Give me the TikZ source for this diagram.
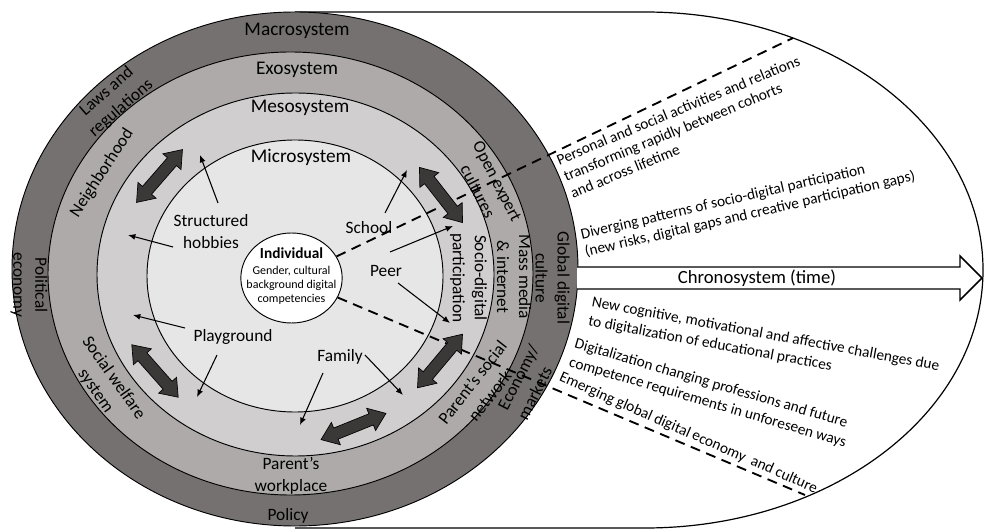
\documentclass[tikz,border=0pt]{standalone}
\usepackage{fontspec}
\setmainfont{Carlito}
\usetikzlibrary{arrows.meta,shapes.geometric}
\definecolor{macroC}{HTML}{767171}
\definecolor{exoC}{HTML}{AEAAAA}
\definecolor{mesoC}{HTML}{D0CECE}
\definecolor{microC}{HTML}{E7E6E6}
\definecolor{arrC}{HTML}{3B3838}
\begin{document}
\begin{tikzpicture}[x=0.75pt,y=-0.75pt,
  lab/.style={font=\fontsize{13}{16.5}\selectfont, align=center, inner sep=0pt},
  sys/.style={font=\fontsize{14.5}{17}\selectfont, inner sep=0pt},
  rt/.style={font=\fontsize{11.5}{13.6}\selectfont, anchor=west, align=left, inner sep=0pt},
  rtw/.style={font=\fontsize{11.5}{14.5}\selectfont, anchor=west, align=left, inner sep=0pt},
  thinarr/.style={-{Latex[length=5.5pt,width=4.5pt]}, line width=0.8pt},
  dline/.style={line width=1.4pt, dash pattern=on 7.5pt off 5pt},
  ring/.style={draw=black, line width=0.7pt},
  pics/dblarr/.style={code={\draw[fill=arrC, draw=black, line width=0.5pt]
     (-35,0) -- (-19,-12) -- (-19,-6) -- (19,-6) -- (19,-12) -- (35,0)
     -- (19,12) -- (19,6) -- (-19,6) -- (-19,12) -- cycle;}}
]
\useasboundingbox (0,0) rectangle (984,530);

% chronosystem outline
\draw[line width=0.9pt, fill=white] (295,12) -- (645,12)
  arc[start angle=-90, end angle=90, x radius=338, y radius=258] -- (295,528);

% rings
\draw[ring, fill=macroC] (295,269) ellipse [x radius=283, y radius=257];
\draw[ring, fill=exoC] (290.5,273.5) ellipse [x radius=242.5, y radius=221.5];
\draw[ring, fill=mesoC] (295.5,274.5) ellipse [x radius=198.5, y radius=181.5];
\draw[ring, fill=microC] (295,276) ellipse [x radius=148, y radius=136];

% chronosystem arrow
\draw[line width=1.1pt, fill=white] (577,267) -- (960,267) -- (960,256) -- (982,278)
  -- (960,300) -- (960,289) -- (577,289);
\node[font=\fontsize{14}{16}\selectfont, inner sep=0pt] (chr) at (757,278) {Chronosystem (time)};

% individual
\node[ellipse, draw=black, fill=white, line width=0.7pt, minimum width=76pt,
      minimum height=67.5pt, inner sep=0pt] (ind) at (291.5,278) {};
\node[align=center, inner sep=0pt, font=\fontsize{9}{10.5}\selectfont] (indtxt) at (291.5,276)
  {{\fontsize{11.5}{13}\selectfont\bfseries Individual}\\[1pt]
   Gender, cultural\\ background digital\\ competencies};

% dashed lines
\coordinate (e1) at (793,38);
\coordinate (e2) at (805,495);
\draw[dline] (ind) -- (e1);
\draw[dline] (ind) -- (e2);

% system names
\node[sys] (macro) at (297,31) {Macrosystem};
\node[sys] (exo) at (297,70) {Exosystem};
\node[sys] (meso) at (300,108) {Mesosystem};
\node[sys] (micro) at (301,157) {Microsystem};

% ring labels
\node[lab, rotate=41] (laws) at (114,100) {Laws and\\regulations};
\node[lab, rotate=57] (neigh) at (102,173) {Neighborhood};
\node[lab, rotate=-90] (pol) at (29,285) {Political\\economy};
\node[lab, rotate=-55] (welf) at (104.5,384.5) {Social welfare\\system};
\node[lab] (work) at (291,476) {Parent’s\\workplace};
\node[lab] (policy) at (288,516) {Policy};
\node[lab, rotate=52] (pnet) at (481,389) {Parent’s social\\network};
\node[lab, rotate=63, align=left] (econ) at (528,382) {Economy/\\markets};
\node[lab, rotate=-90] (socio) at (468.5,278) {Socio-digital\\participation};
\node[lab, rotate=-90] (mass) at (514,277) {Mass media\\\& internet};
\node[lab, rotate=-90] (glob) at (552.5,278) {Global digital\\culture};
\node[lab, rotate=-63] (open) at (487.5,186.5) {Open expert\\cultures};

% microsystem labels
\node[lab] (hob) at (211,232) {Structured\\hobbies};
\node[lab] (school) at (369,228) {School};
\node[lab] (peer) at (386,271) {Peer};
\node[lab] (play) at (233,337) {Playground};
\node[lab] (fam) at (340,357) {Family};

% thin arrows
\coordinate (a1s) at (218,203); \coordinate (a1e) at (200,155);
\coordinate (a2s) at (173,247); \coordinate (a2e) at (128,235);
\coordinate (a3s) at (385,213); \coordinate (a3e) at (407,170);
\coordinate (a4s) at (390,252); \coordinate (a4e) at (453,226);
\coordinate (a5s) at (398,283); \coordinate (a5e) at (450,323);
\coordinate (a6s) at (185,328); \coordinate (a6e) at (133,315);
\coordinate (a7s) at (217,355); \coordinate (a7e) at (197,397);
\coordinate (a8s) at (323,373); \coordinate (a8e) at (300,425);
\coordinate (a9s) at (365,355); \coordinate (a9e) at (403,395);
\foreach \i in {1,...,9} {\draw[thinarr] (a\i s) -- (a\i e);}

% double arrows
\pic[rotate=49] at (159.5,176) {dblarr};
\pic[rotate=-52] at (441,195) {dblarr};
\pic[rotate=50] at (440,361) {dblarr};
\pic[rotate=22] at (353.5,426.5) {dblarr};
\pic[rotate=-48.5] at (155,371) {dblarr};

% right-hand texts
\node[rt, rotate=22.5] (t1) at (564,177)
  {Personal and social activities and relations\\transforming rapidly between cohorts\\and across lifetime};
\node[rt, rotate=13] (t2) at (583,244)
  {Diverging patterns of socio-digital participation\\(new risks, digital gaps and creative participation gaps)};
\node[rtw, rotate=-10.5] (t3) at (590,312)
  {New cognitive, motivational and affective challenges due\\to digitalization of educational practices};
\node[rtw, rotate=-16.3] (t4) at (572,353)
  {Digitalization changing professions and future\\competence requirements in unforeseen ways};
\node[rt, rotate=-23.7] (t5) at (560,377) {Emerging global digital economy\ \ and culture};
\end{tikzpicture}
\end{document}
